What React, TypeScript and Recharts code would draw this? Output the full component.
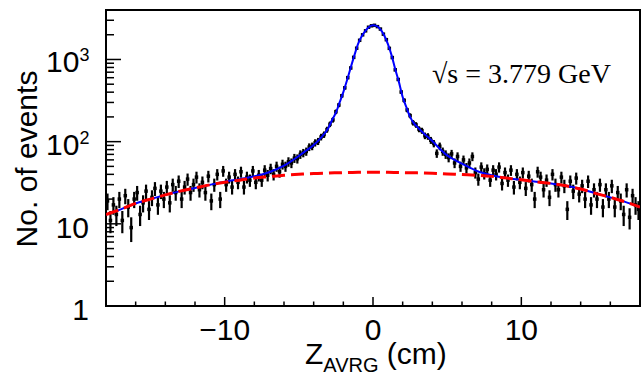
import React from 'react';
import {
  ComposedChart,
  Line,
  Scatter,
  ErrorBar,
  XAxis,
  YAxis,
  ReferenceArea,
} from 'recharts';

// histogram: 180 bins of 0.2 cm from -18 to 18
const BIN_LO = -18;
const BIN_W = 0.2;
const COUNTS = [
  19, 11, 17, 13, 20, 11, 22, 16, 9, 20,
  24, 13, 18, 25, 15, 21, 27, 17, 25, 20,
  28, 18, 30, 24, 33, 20, 28, 35, 24, 30,
  37, 26, 32, 24, 38, 19, 30, 40, 20, 44,
  30, 37, 28, 40, 32, 43, 28, 37, 34, 44,
  32, 39, 34, 45, 39, 47, 40, 50, 43, 53,
  50, 57, 55, 63, 62, 70, 73, 76, 86, 88,
  97, 101, 114, 122, 140,
  163, 184, 231, 279, 362, 452, 601, 788, 1062, 1371,
  1712, 1995, 2231, 2468, 2570, 2604, 2509, 2345, 2032, 1741,
  1366, 1055, 748, 571, 402, 318, 243, 207, 170, 160,
  142, 136, 118, 116, 104, 95, 72, 88, 76, 70,
  64, 71, 55, 66, 50,
  60, 48, 55, 66, 42, 35, 49, 41, 46, 34,
  45, 40, 49, 31, 42, 34, 45, 28, 40, 32,
  42, 27, 38, 30, 20, 43, 37, 26, 34, 21,
  40, 30, 26, 37, 29, 15, 33, 25, 36, 23,
  29, 20, 33, 17, 26, 20, 30, 16, 26, 20,
  29, 16, 24, 19, 13, 26, 12, 22, 17, 15,
];

// total fit (signal + background)
const FIT_X = [
  -18, -17, -16, -15, -14, -13, -12, -11, -10, -9, -8, -7, -6, -5, -4.5, -4, -3.5, -3,
  -2.75, -2.5, -2.25, -2, -1.75, -1.5, -1.25, -1, -0.75, -0.5, -0.25, 0, 0.25, 0.5,
  0.75, 1, 1.25, 1.5, 1.75, 2, 2.25, 2.5, 2.75, 3, 3.5, 4, 4.5, 5, 5.5, 6, 7, 8, 9,
  10, 11, 12, 13, 14, 15, 16, 17, 18,
];
const FIT_Y = [
  13, 15, 17.7, 20, 22.5, 25, 27.3, 29.8, 32.5, 35, 38, 42.5, 51, 67, 78, 91, 112, 148,
  185, 225, 300, 400, 560, 800, 1130, 1560, 1930, 2250, 2500, 2600, 2540, 2330,
  1975, 1550, 1130, 760, 530, 350, 262, 200, 168, 150, 122, 102, 82, 68, 60, 54, 44, 39, 36,
  34.3, 32.5, 31, 29, 26.5, 23.5, 21, 18.5, 16,
];

// background only
const BKG_X = [
  -18, -17, -16, -15, -14, -13, -12, -11, -10, -9, -8, -7, -6, -5, -4, -3, -2, -1, 0,
  1, 2, 3, 4, 5, 6, 7, 8, 9, 10, 11, 12, 13, 14, 15, 16, 17, 18,
];
const BKG_Y = [
  13, 15, 17.7, 20, 22.5, 25, 27.3, 29.8, 32, 34, 36, 37.5, 39, 40, 41, 41.5, 42, 42.3, 42.5,
  42.3, 42, 41.7, 41.2, 40.5, 39.7, 39, 37.8, 36, 34.3, 32.5, 31, 29, 26.5, 23.5, 21, 18.5, 16,
];

const X_TICKS = [-16, -14, -12, -10, -8, -6, -4, -2, 0, 2, 4, 6, 8, 10, 12, 14, 16];
const X_LABELS: Record<number, string> = { '-10': '\u221210', 0: '0', 10: '10' };
const Y_TICKS = [
  1, 2, 3, 4, 5, 6, 7, 8, 9, 10, 20, 30, 40, 50, 60, 70, 80, 90,
  100, 200, 300, 400, 500, 600, 700, 800, 900, 1000, 2000, 3000,
];

const histData = COUNTS.map((n, i) => ({
  x: BIN_LO + BIN_W * (i + 0.5),
  y: n,
  err: Math.sqrt(n),
}));
const fitData = FIT_X.map((x, i) => ({ x, y: FIT_Y[i] }));
const bkgData = BKG_X.map((x, i) => ({ x, y: BKG_Y[i] }));

const FONT = '"Liberation Sans", Arial, Helvetica, sans-serif';

// ticks are drawn inward (ROOT style); x,y arrive on the axis line
const XTick = (props: any) => {
  const { x, y, payload } = props;
  const v = payload.value;
  const major = v % 10 === 0;
  return (
    <g>
      <line x1={x} x2={x} y1={y} y2={y - (major ? 9 : 4.5)} stroke="#000" strokeWidth={1.5} />
      {major && (
        <text x={x} y={y + 34} textAnchor="middle" fontSize={30} fontFamily={FONT} fill="#000">
          {X_LABELS[v]}
        </text>
      )}
    </g>
  );
};

const YTick = (props: any) => {
  const { x, y, payload } = props;
  const v = payload.value;
  const exp = Math.round(Math.log10(v));
  const major = Math.abs(v - Math.pow(10, exp)) < 1e-6;
  let label = null;
  if (major) {
    if (exp <= 1) {
      label = (
        <text x={x - 17} y={y + 14} textAnchor="end" fontSize={30} fontFamily={FONT} fill="#000">
          {String(v)}
        </text>
      );
    } else {
      label = (
        <text x={x - 16.5} y={y + 13} textAnchor="end" fontSize={30} fontFamily={FONT} fill="#000">
          <tspan>10</tspan>
          <tspan dy={-11} fontSize={18}>{exp}</tspan>
        </text>
      );
    }
  }
  return (
    <g>
      <line x1={x} x2={x + (major ? 15 : 8)} y1={y} y2={y} stroke="#000" strokeWidth={1.5} />
      {label}
    </g>
  );
};

const Dot = (props: any) => {
  const { cx, cy } = props;
  if (cx == null || cy == null) return null;
  return <rect x={cx - 1.75} y={cy - 1.75} width={3.5} height={3.5} fill="#000" />;
};

export default function App() {
  return (
    <div style={{ position: 'absolute', left: 0, top: 0, width: 641, height: 377, background: '#fff' }}>
      <ComposedChart
        width={641}
        height={377}
        margin={{ top: 10, right: 1, bottom: 0, left: 0 }}
      >
        <XAxis
          dataKey="x"
          type="number"
          domain={[-18, 18]}
          allowDataOverflow
          ticks={X_TICKS}
          interval={0}
          tick={XTick}
          tickSize={0}
          tickMargin={0}
          tickLine={false}
          axisLine={false}
          height={71}
        />
        <YAxis
          dataKey="y"
          type="number"
          scale="log"
          domain={[1, 4000]}
          allowDataOverflow
          ticks={Y_TICKS}
          interval={0}
          tick={YTick}
          tickSize={0}
          tickMargin={0}
          tickLine={false}
          axisLine={false}
          width={106}
        />
        <Scatter data={histData} dataKey="y" shape={Dot} isAnimationActive={false} zIndex={300}>
          <ErrorBar dataKey="err" direction="y" width={0} stroke="#000" strokeWidth={2.2} isAnimationActive={false} zIndex={300} />
        </Scatter>
        <Line
          data={fitData}
          dataKey="y"
          type="monotone"
          stroke="#0000ff"
          strokeWidth={2}
          dot={false}
          activeDot={false}
          isAnimationActive={false}
          zIndex={500}
        />
        <Line
          data={bkgData}
          dataKey="y"
          type="monotone"
          stroke="#ff0000"
          strokeWidth={3}
          strokeDasharray="13 6"
          dot={false}
          activeDot={false}
          isAnimationActive={false}
          zIndex={600}
        />
        <ReferenceArea x1={-18} x2={18} y1={1} y2={4000} fill="none" stroke="#000" strokeWidth={2} ifOverflow="visible" />
      </ComposedChart>
      <svg
        width={641}
        height={377}
        style={{ position: 'absolute', left: 0, top: 0, pointerEvents: 'none' }}
      >
        <text
          transform="translate(37,159) rotate(-90)"
          textAnchor="middle"
          fontSize={30}
          fontFamily={FONT}
          fill="#000"
        >
          No. of events
        </text>
        <text x={305} y={364} fontSize={30} fontFamily={FONT} fill="#000">
          <tspan>Z</tspan>
          <tspan dy={8} fontSize={20}>AVRG</tspan>
          <tspan dy={-8}> (cm)</tspan>
        </text>
        <text x={432} y={83} fontSize={28} fontFamily='"Liberation Serif", "Times New Roman", serif' fill="#000">
          {'\u221As = 3.779 GeV'}
        </text>
      </svg>
    </div>
  );
}
